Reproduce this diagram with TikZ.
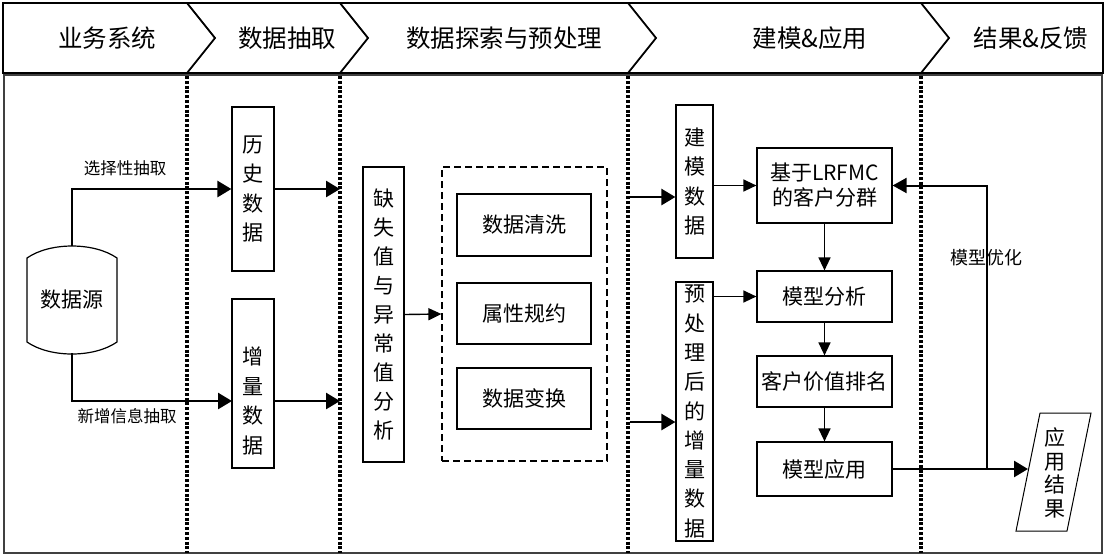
\documentclass[tikz,border=0pt]{standalone}
\usepackage{fontspec}
\setmainfont{Noto Sans CJK SC}
\usetikzlibrary{arrows.meta,calc}
\begin{document}
\begin{tikzpicture}[x=1pt,y=-1pt,
  box/.style={draw,line width=1.2pt,inner sep=0pt,align=center},
  vtext/.style={font=\fontsize{21}{29.5}\selectfont},
  htext/.style={font=\fontsize{21}{25}\selectfont},
  lbl/.style={font=\fontsize{16.5}{20}\selectfont,inner sep=0pt},
  thickarr/.style={line width=2.6pt,-{Triangle[length=14pt,width=16pt]}},
  thinarr/.style={line width=1.4pt,-{Triangle[length=13pt,width=12pt]}},
  sepline/.style={line width=3.2pt,dash pattern=on 3pt off 1.8pt},
  hdr/.style={font=\fontsize{24.5}{28}\selectfont,inner sep=0pt}]
\useasboundingbox (0,0) rectangle (1107,558);
% header
\draw[line width=1.8pt] (3,3) rectangle (1103,73);
\foreach \xx in {187,340,628,921}{
  \draw[line width=1.8pt] (\xx,3) -- (\xx+28,38) -- (\xx,73);
}
\node[hdr] (h1) at (107,38) {业务系统};
\node[hdr] (h2) at (287,38) {数据抽取};
\node[hdr] (h3) at (504,38) {数据探索与预处理};
\node[hdr] (h4) at (810,38) {建模\&应用};
\node[hdr] (h5) at (1031,38) {结果\&反馈};
% body frame
\draw[line width=1.5pt,black!75] (4,75) rectangle (1102,553);
\foreach \xx in {187,340,628,921}{
  \draw[sepline] (\xx,76) -- (\xx,553);
}
% data source cylinder
\draw[line width=1.2pt] (27,258) .. controls (50,242) and (94,242) .. (117,258)
  -- (117,342) .. controls (94,358) and (50,358) .. (27,342) -- cycle;
\node[minimum width=90pt,minimum height=107pt,inner sep=0pt,htext] (src) at (72,299.5) {数据源};
% extraction boxes
\node[box,vtext,minimum width=42pt,minimum height=164pt] (hist) at (253,189) {历\\史\\数\\据};
\node[box,minimum width=42pt,minimum height=169pt] (incr) at (253,383.5) {};
\node[vtext,inner sep=0pt,align=center] (incrt) at (253,401) {增\\量\\数\\据};
\coordinate (incrin) at (232,401);
\draw[thickarr] (src.north) |- (hist.west);
\draw[thickarr] (src.south) |- (incrin);
\node[lbl] (l1) at (125,168) {选择性抽取};
\node[lbl] (l2) at (127,416) {新增信息抽取};
\coordinate (s2a) at (340,189);
\coordinate (s2b) at (340,401);
\draw[thickarr] (hist.east) -- (s2a);
\draw[thickarr] (incrin -| incr.east) -- (s2b);
% exploration
\node[box,vtext,minimum width=41pt,minimum height=295pt,font=\fontsize{21}{29.1}\selectfont] (miss) at (383.5,314.5) {缺\\失\\值\\与\\异\\常\\值\\分\\析};
\node[draw,line width=1.2pt,dash pattern=on 7pt off 4pt,minimum width=165pt,minimum height=294pt,inner sep=0pt] (grp) at (524.5,314) {};
\node[box,htext,minimum width=134pt,minimum height=62pt] (clean) at (524,225) {数据清洗};
\node[box,htext,minimum width=134pt,minimum height=61pt] (attr) at (524,313.5) {属性规约};
\node[box,htext,minimum width=134pt,minimum height=61pt] (trans) at (524,398.5) {数据变换};
\draw[thinarr] (miss.east) -- (grp.west);
% modelling
\node[box,vtext,minimum width=37pt,minimum height=153pt] (md) at (694.5,181.5) {建\\模\\数\\据};
\node[box,minimum width=37pt,minimum height=259pt,font=\fontsize{21}{29.3}\selectfont] (pre) at (694.5,411.5) {预\\处\\理\\后\\的\\增\\量\\数\\据};
\coordinate (s3a) at (630,197);
\coordinate (s3b) at (630,422);
\draw[thickarr] (s3a) -- (s3a -| md.west);
\draw[thickarr] (s3b) -- (s3b -| pre.west);
\node[box,htext,minimum width=135pt,minimum height=75pt] (lrfmc) at (824.5,185.5) {基于LRFMC\\的客户分群};
\node[box,htext,minimum width=135pt,minimum height=51pt] (ana) at (824.5,296.5) {模型分析};
\node[box,htext,minimum width=135pt,minimum height=51pt] (rank) at (824.5,381.5) {客户价值排名};
\node[box,htext,minimum width=135pt,minimum height=54pt] (app) at (824.5,469) {模型应用};
\draw[thinarr] (md.east |- lrfmc.west) -- (lrfmc.west);
\draw[thinarr] (pre.east |- ana.west) -- (ana.west);
\draw[thinarr] (lrfmc.south) -- (ana.north);
\draw[thinarr] (ana.south) -- (rank.north);
\draw[thinarr] (rank.south) -- (app.north);
% results
\draw[line width=1pt] (1016,531) -- (1040,413) -- (1091,413) -- (1067,531) -- cycle;
\node[font=\fontsize{21}{23.5}\selectfont,align=center,inner sep=0pt] (res) at (1055,473) {应\\用\\结\\果};
\coordinate (resin) at (1028,469);
\coordinate (fb) at (987,469);
\draw[thickarr] (app.east) -- (resin);
\draw[line width=2pt,-{Triangle[length=14pt,width=15pt]}] (fb) |- (lrfmc.east);
\node[font=\fontsize{18}{20}\selectfont,inner sep=0pt] (opt) at (986,258) {模型优化};
\end{tikzpicture}
\end{document}
